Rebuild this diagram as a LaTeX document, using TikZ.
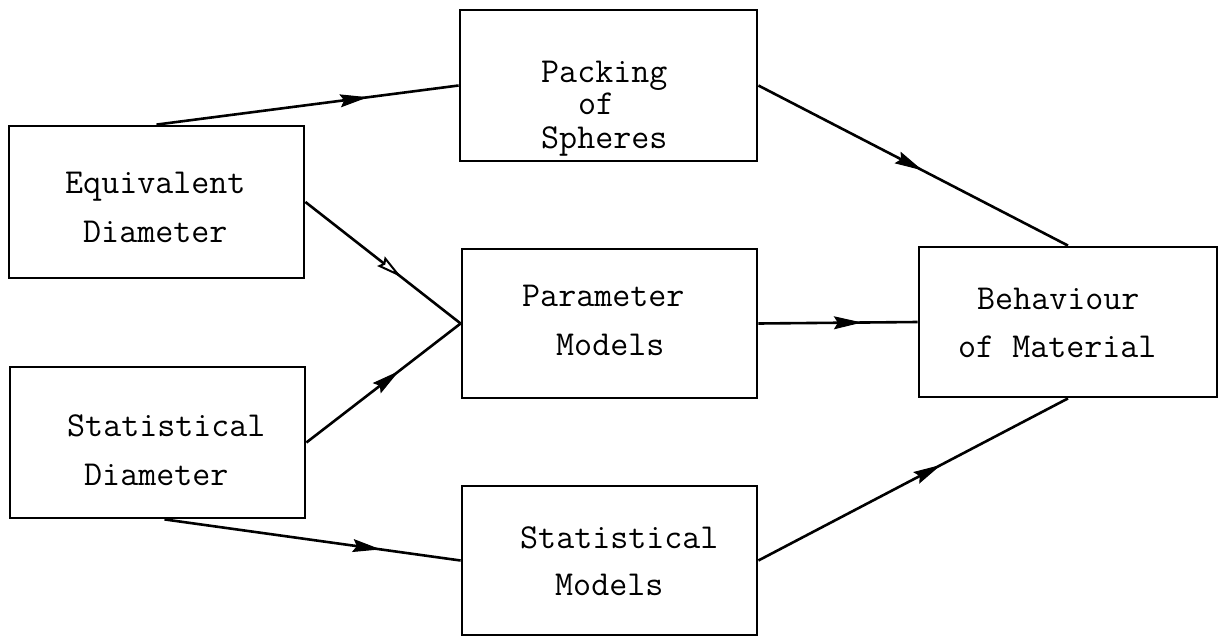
\documentclass[tikz,border=0pt]{standalone}
\usetikzlibrary{arrows.meta,decorations.markings}
\begin{document}
\begin{tikzpicture}[x=1pt,y=-1pt,
  box/.style={draw, line width=2.8pt, inner sep=0pt},
  lbl/.style={anchor=base west, inner sep=0pt, text height=22pt, text depth=6pt,
              font=\fontsize{35}{40}\selectfont\ttfamily},
  conn/.style={line width=2.6pt},
  midarrow/.style={postaction={decorate,decoration={markings,
      mark=at position #1 with {\arrow[line width=1pt]{Stealth[length=28pt,width=13pt,inset=4pt]}}}}},
  midopen/.style={postaction={decorate,decoration={markings,
      mark=at position #1 with {\arrow[line width=2pt]{Stealth[open,fill=white,length=26pt,width=12pt,inset=3pt]}}}}}
]
\useasboundingbox (0,0) rectangle (1219,637);

% boxes
\node[box, minimum width=295pt, minimum height=152pt] (eq)    at (156.5,202)   {};
\node[box, minimum width=295pt, minimum height=151pt] (statd) at (157.5,442.5) {};
\node[box, minimum width=297pt, minimum height=151pt] (pack)  at (608.5,85.5)  {};
\node[box, minimum width=295pt, minimum height=149pt] (param) at (609.5,323.5) {};
\node[box, minimum width=295pt, minimum height=149pt] (statm) at (609.5,560.5) {};
\node[box, minimum width=298pt, minimum height=150pt] (beh)   at (1068,322)    {};

% labels
\node[lbl] (eq1) at (65,193) {Equivalent};
\node[lbl] (eq2) at (83,242) {Diameter};
\node[lbl] (sd1) at (67,436) {Statistical};
\node[lbl] (sd2) at (84,485) {Diameter};
\node[lbl] (pk1) at (541,82) {Packing};
\node[lbl] (pk2) at (578,114) {of};
\node[lbl] (pk3) at (541,148) {Spheres};
\node[lbl] (pm1) at (522,306) {Parameter};
\node[lbl] (pm2) at (556,355) {Models};
\node[lbl] (sm1) at (520,548) {Statistical};
\node[lbl] (sm2) at (555,595) {Models};
\node[lbl] (bh1) at (977,309) {Behaviour};
\node[lbl] (bh2) at (958,357) {of Material};

% connectors
\draw[conn, midarrow=0.7]  (eq.north) -- (pack.west);
\draw[conn, midopen=0.62]  (eq.east) -- (param.west);
\draw[conn, midarrow=0.6]  (statd.east) -- (param.west);
\draw[conn, midarrow=0.73] ([xshift=7pt]statd.south) -- (statm.west);
\draw[conn, midarrow=0.53] (pack.east) -- (beh.north);
\draw[conn, midarrow=0.65] (param.east) -- (beh.west);
\draw[conn, midarrow=0.59] (statm.east) -- (beh.south);
\end{tikzpicture}
\end{document}
